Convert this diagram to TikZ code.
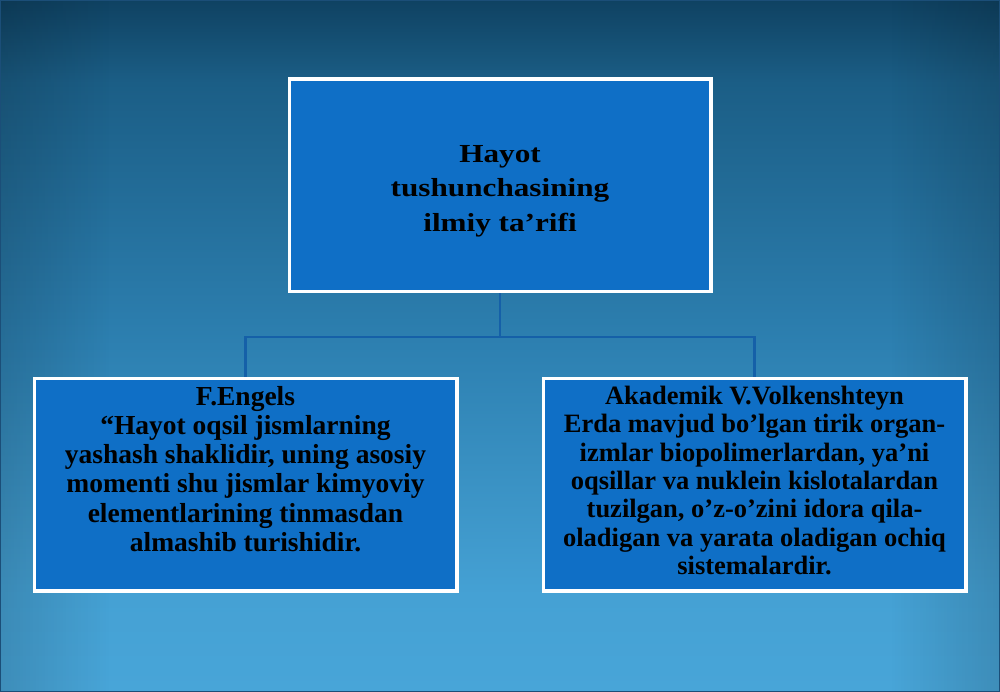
\documentclass[tikz,border=0pt]{standalone}
\usepackage{fontspec}
\usetikzlibrary{fadings}
\setmainfont{Liberation Serif}
\newfontfamily\wideserif[FakeStretch=1.2]{Liberation Serif}
\definecolor{bgtop}{HTML}{0F4262}
\definecolor{bgtopb}{HTML}{1B5E86}
\definecolor{bgmid}{HTML}{2D80B1}
\definecolor{bgbotb}{HTML}{45A1D4}
\definecolor{bgbot}{HTML}{48A5D8}
\definecolor{boxfill}{HTML}{0F6FC6}
\definecolor{linkcol}{HTML}{1560A8}
\definecolor{edgecol}{HTML}{1B4E78}
\pgfdeclareverticalshading{bgshade}{100bp}{color(0bp)=(bgbot); color(25bp)=(bgbot); color(32bp)=(bgbotb); color(50bp)=(bgmid); color(69bp)=(bgtopb); color(75bp)=(bgtop); color(100bp)=(bgtop)}
\tikzset{
  panel/.style={draw=white, line width=2.5pt, fill=boxfill, inner sep=0pt},
  link/.style={draw=linkcol, line width=2.2pt},
  toptext/.style={font=\wideserif\bfseries\fontsize{26}{34.5}\selectfont, align=center, inner sep=0pt, text=black},
  bodytext/.style={font=\bfseries\fontsize{27.5}{29.2}\selectfont, align=center, inner sep=0pt, text=black}
}
\begin{document}
\begin{tikzpicture}[x=1pt,y=-1pt]
\useasboundingbox (0,0) rectangle (1000,692);
\shade[shading=bgshade] (0,0) rectangle (1000,692);
\fill[black, opacity=0.14, path fading=east] (0,0) rectangle (110,692);
\fill[black, opacity=0.14, path fading=west] (890,0) rectangle (1000,692);
\draw[edgecol, line width=2pt] (0,0) rectangle (1000,692);
% connectors
\coordinate (J) at (500,337);
% nodes
\node[panel, minimum width=420pt, minimum height=211pt] (T) at (500,185.5) {};
\node[panel, minimum width=421pt, minimum height=211pt] (L) at (245.5,484.5) {};
\node[panel, minimum width=421pt, minimum height=211pt] (R) at (754.5,484.5) {};
\draw[link] (T.south) -- (J);
\draw[link] (J) -| (L.north);
\draw[link] (J) -| (R.north);
\draw[white, line width=2.5pt] (T.south west) rectangle (T.north east);
\draw[white, line width=2.5pt] (L.south west) rectangle (L.north east);
\draw[white, line width=2.5pt] (R.south west) rectangle (R.north east);
\node[toptext] (Tt) at (500,191) {Hayot\\tushunchasining\\ilmiy ta’rifi};
\node[bodytext, anchor=north] (Lt) at (245.5,386) {F.Engels\\“Hayot oqsil jismlarning\\yashash shaklidir, uning asosiy\\momenti shu jismlar kimyoviy\\elementlarining tinmasdan\\almashib turishidir.};
\node[bodytext, font=\bfseries\fontsize{26.5}{28.3}\selectfont, anchor=north] (Rt) at (754.5,386) {Akademik V.Volkenshteyn\\Erda mavjud bo’lgan tirik organ-\\izmlar biopolimerlardan, ya’ni\\oqsillar va nuklein kislotalardan\\tuzilgan, o’z-o’zini idora qila-\\oladigan va yarata oladigan ochiq\\sistemalardir.};
\end{tikzpicture}
\end{document}
